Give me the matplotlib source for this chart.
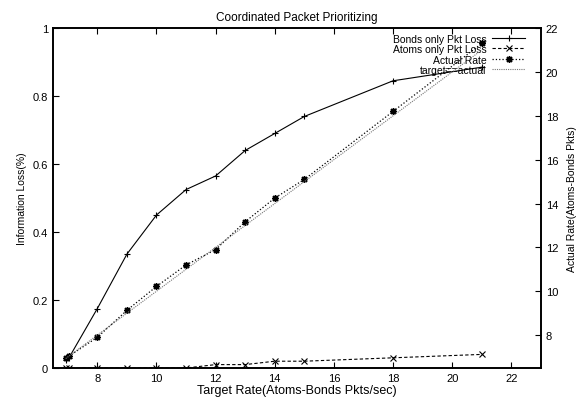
import matplotlib
matplotlib.use('Agg')
import matplotlib.pyplot as plt
import numpy as np

plt.rcParams['font.family'] = ['Liberation Sans', 'DejaVu Sans']

# target rates
x = [6.93, 7.04, 8, 9, 10, 11, 12, 13, 14, 15, 18, 21]
# information loss (left axis)
bonds_loss = [0.025, 0.03, 0.175, 0.335, 0.45, 0.525, 0.565, 0.64, 0.69, 0.74, 0.845, 0.885]
atoms_loss = [0.0, 0.0, 0.0, 0.0, 0.0, 0.0, 0.01, 0.01, 0.02, 0.02, 0.03, 0.04]
# actual rate (right axis)
actual_rate = [6.97, 7.04, 7.9, 9.13, 10.22, 11.2, 11.9, 13.17, 14.25, 15.1, 18.2, 21.3]
# reference line target == actual
ref_x = [6.93, 21]
ref_y = [6.93, 21]

fig = plt.figure(figsize=(5.76, 4.10), dpi=100)
ax = fig.add_axes([0.092, 0.1, 0.847, 0.829])
ax2 = ax.twinx()

l1, = ax.plot(x, bonds_loss, '-k', marker='+', ms=5, mew=0.8, lw=0.8,
              label='Bonds only Pkt Loss')
l2, = ax.plot(x, atoms_loss, '--k', marker='x', ms=4, mew=0.8, lw=0.8,
              dashes=(3, 2), label='Atoms only Pkt Loss')
l3, = ax2.plot(x, actual_rate, ':k', marker=(8, 2, 0), ms=5, mew=1.0, lw=0.9,
               label='Actual Rate')
l4, = ax2.plot(ref_x, ref_y, color='#777777', ls=(0, (1, 1)), lw=0.8,
               label='target==actual')

ax.set_xlim(6.5, 23)
ax.set_ylim(0, 1)
ax2.set_ylim(6.5, 22)

ax.set_xticks([8, 10, 12, 14, 16, 18, 20, 22])
ax.set_yticks([0, 0.2, 0.4, 0.6, 0.8, 1])
ax.set_yticklabels(['0', '0.2', '0.4', '0.6', '0.8', '1'])
ax2.set_yticks([8, 10, 12, 14, 16, 18, 20, 22])

ax.tick_params(axis='x', direction='in', top=True, labelsize=8, length=4, width=0.8)
ax.tick_params(axis='y', direction='in', labelsize=8, length=4, width=0.8)
ax2.tick_params(axis='y', direction='in', labelsize=8, length=4, width=0.8)
for a in (ax, ax2):
    for s in a.spines.values():
        s.set_linewidth(1.2)

ax.set_xlabel('Target Rate(Atoms-Bonds Pkts/sec)', fontsize=9, labelpad=1)
ax.set_ylabel('Information Loss(%)', fontsize=7.5)
ax2.set_ylabel('Actual Rate(Atoms-Bonds Pkts)', fontsize=7.5, labelpad=6)
ax.set_title('Coordinated Packet Prioritizing', fontsize=8.5, pad=6)

leg = ax.legend(handles=[l1, l2, l3, l4], loc='upper right', frameon=False,
                markerfirst=False, fontsize=7.5, handlelength=3.2,
                labelspacing=0.05, borderaxespad=1.1, handletextpad=0.5,
                bbox_to_anchor=(1.0, 1.03))
for t in leg.get_texts():
    t.set_ha('right')
leg._legend_box.align = 'right'

fig.savefig('out.png', dpi=100)
